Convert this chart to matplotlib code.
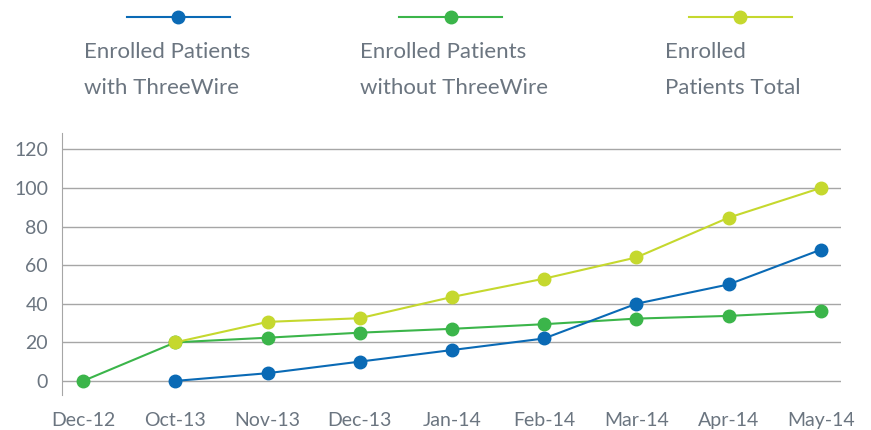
import matplotlib; matplotlib.use("Agg")
import matplotlib.pyplot as plt
from matplotlib.lines import Line2D

plt.rcParams.update({"font.family": ["Lato", "DejaVu Sans"]})

months = ["Dec-12", "Oct-13", "Nov-13", "Dec-13", "Jan-14", "Feb-14", "Mar-14", "Apr-14", "May-14"]
with_tw = [None, 0, 4, 10, 16, 22, 40, 50, 68]
without_tw = [0, 20, 22.4, 25, 27, 29.4, 32.3, 33.7, 36]
total = [None, 20, 30.6, 32.5, 43.5, 53, 64, 84.6, 100]
yticks = [0, 20, 40, 60, 80, 100, 120]

BLUE, GREEN, YELLOW = "#0a6ab5", "#3bb54a", "#c5d82e"
TXT = "#6b7580"

fig = plt.figure(figsize=(8.71, 4.30), dpi=100)
ax = fig.add_axes([62/871, 35/430, (841-62)/871, (395-133)/430])

def series(vals):
    xs = [i for i, v in enumerate(vals) if v is not None]
    ys = [v for v in vals if v is not None]
    return xs, ys

for vals, col, z in [(without_tw, GREEN, 3), (total, YELLOW, 4), (with_tw, BLUE, 5)]:
    xs, ys = series(vals)
    ax.plot(xs, ys, "o-", color=col, lw=1.5, ms=9, zorder=z, clip_on=False)

ax.set_xlim(-0.23, 8.22)
ax.set_ylim(-7.3, 128.5)
ax.set_yticks(yticks)
ax.set_xticks(range(len(months)))
ax.set_xticklabels(months)
ax.tick_params(length=0, labelsize=14, colors=TXT, pad=10)
ax.tick_params(axis="x", pad=12)
ax.grid(axis="y", color="#a6a6a6", lw=1)
ax.set_axisbelow(True)
for s in ["top", "right", "bottom"]:
    ax.spines[s].set_visible(False)
ax.spines["left"].set_color("#a6a6a6")

# legend drawn by hand: line + dot above two-line label
legend = [(BLUE, 127, 230, 178, 84, "Enrolled Patients\nwith ThreeWire"),
          (GREEN, 399, 502, 451, 360, "Enrolled Patients\nwithout ThreeWire"),
          (YELLOW, 689, 792, 740, 665, "Enrolled\nPatients Total")]
for col, x0, x1, xm, xt, lab in legend:
    fig.add_artist(Line2D([x0/871, x1/871], [1-17/430]*2, color=col, lw=1.5))
    fig.add_artist(Line2D([xm/871], [1-17/430], color=col, marker="o", ms=9))
    fig.text(xt/871, 1-70/430, lab, fontsize=16, color=TXT, linespacing=2.0,
             ha="left", va="center")

fig.savefig("out.png", dpi=100)
